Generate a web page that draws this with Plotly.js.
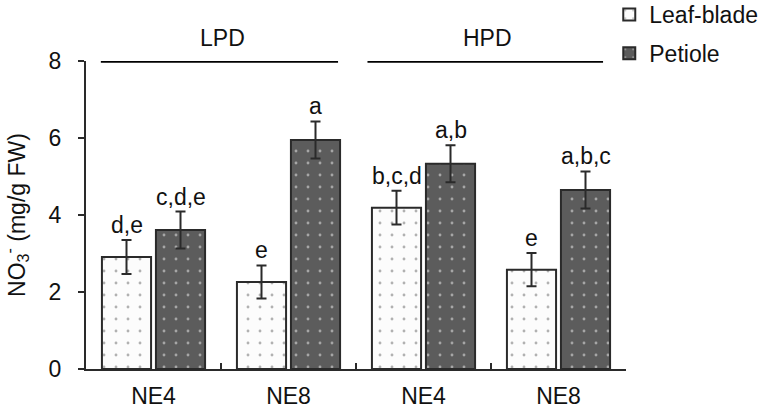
<!DOCTYPE html>
<html>
<head>
<meta charset="utf-8">
<script src="https://cdn.plot.ly/plotly-3.0.1.min.js"></script>
<style>
html,body{margin:0;padding:0;background:#fff;}
#chart{width:767px;height:408px;}
</style>
</head>
<body>
<div id="chart"></div>
<script>
// ---- data ----
var categoryIds = ["LPD-NE4", "LPD-NE8", "HPD-NE4", "HPD-NE8"];
var tickLabels = ["NE4", "NE8", "NE4", "NE8"];
var groupNames = ["LPD", "HPD"];
var seriesNames = ["Leaf-blade", "Petiole"];
var leafBlade = [2.91, 2.26, 4.19, 2.58];
var leafBladeErr = [0.44, 0.43, 0.44, 0.43];
var petiole = [3.61, 5.95, 5.33, 4.65];
var petioleErr = [0.48, 0.48, 0.48, 0.48];
var leafBladeLetters = ["d,e", "e", "b,c,d", "e"];
var petioleLetters = ["c,d,e", "a", "a,b", "a,b,c"];

// ---- styles ----
var FONT = "Liberation Sans, Arial, sans-serif";
var INK = "#2a2a2a";
var FS = 23;

var traces = [
  {
    type: "bar", name: seriesNames[0], x: categoryIds, y: leafBlade,
    legendgroup: "g1",
    marker: {
      color: "#fcfcfc",
      line: {color: INK, width: 2},
      pattern: {shape: ".", fillmode: "overlay", bgcolor: "#fcfcfc", fgcolor: "#666666", size: 12, solidity: 0.045}
    },
    error_y: {type: "data", array: leafBladeErr, visible: true, color: INK, thickness: 2, width: 5},
    hoverinfo: "skip"
  },
  {
    type: "bar", name: seriesNames[1], x: categoryIds, y: petiole,
    legendgroup: "g2",
    marker: {
      color: "#5c5c5c",
      line: {color: INK, width: 2},
      pattern: {shape: ".", fillmode: "overlay", bgcolor: "#5c5c5c", fgcolor: "#f0f0f0", size: 12, solidity: 0.045}
    },
    error_y: {type: "data", array: petioleErr, visible: true, color: INK, thickness: 2, width: 5},
    hoverinfo: "skip"
  }
];

var annotations = [];
function addLetters(vals, errs, letters, shift) {
  for (var i = 0; i < vals.length; i++) {
    annotations.push({
      xref: "x", yref: "y", x: categoryIds[i], y: vals[i] + errs[i],
      xshift: shift, yshift: 0, yanchor: "bottom", xanchor: "center",
      text: letters[i], showarrow: false,
      font: {family: FONT, size: FS, color: "#111"}
    });
  }
}
addLetters(leafBlade, leafBladeErr, leafBladeLetters, -27);
addLetters(petiole, petioleErr, petioleLetters, 27);

// group bars above the chart
var groupSpans = [[-0.39, 1.367], [1.585, 3.33]];
var shapes = [];
for (var g = 0; g < groupNames.length; g++) {
  shapes.push({
    type: "line", xref: "x", yref: "y",
    x0: groupSpans[g][0], x1: groupSpans[g][1], y0: 8, y1: 8,
    line: {color: "#000", width: 3.5}
  });
  annotations.push({
    xref: "x", yref: "y", x: (groupSpans[g][0] + groupSpans[g][1]) / 2 + 0.02, y: 8,
    yshift: 23, yanchor: "middle", xanchor: "center",
    text: groupNames[g], showarrow: false,
    font: {family: FONT, size: FS, color: "#111"}
  });
}

var layout = {
  width: 767, height: 408,
  margin: {l: 86, r: 141, t: 61, b: 39, pad: 0, autoexpand: false},
  paper_bgcolor: "#fff", plot_bgcolor: "#fff",
  font: {family: FONT, size: FS, color: "#111"},
  barmode: "group", bargap: 0.2, bargroupgap: 0.09,
  showlegend: true,
  legend: {
    xref: "paper", yref: "paper",
    x: 0.969, xanchor: "left", y: 1.221, yanchor: "top",
    font: {family: FONT, size: FS, color: "#111"},
    traceorder: "grouped", tracegroupgap: 6,
    bgcolor: "rgba(0,0,0,0)"
  },
  xaxis: {
    type: "category", categoryorder: "array", categoryarray: categoryIds,
    tickmode: "array", tickvals: categoryIds, ticktext: tickLabels,
    tickson: "boundaries", ticks: "inside", ticklen: 6, tickwidth: 2, tickcolor: INK,
    showline: true, linecolor: INK, linewidth: 2,
    showgrid: false, zeroline: false, range: [-0.5, 3.5],
    tickfont: {family: FONT, size: FS, color: "#111"},
    ticklabelstandoff: 5, automargin: false, fixedrange: true
  },
  yaxis: {
    range: [0, 8], tickmode: "linear", tick0: 0, dtick: 2,
    ticks: "outside", ticklen: 6, tickwidth: 2, tickcolor: INK,
    showline: true, linecolor: INK, linewidth: 2,
    showgrid: false, zeroline: false,
    tickfont: {family: FONT, size: FS, color: "#111"},
    ticklabelstandoff: 12, automargin: false,
    title: {text: "NO<sub>3</sub><sup>-</sup> (mg/g FW)", font: {family: FONT, size: FS, color: "#111"}, standoff: 18},
    fixedrange: true
  },
  shapes: shapes,
  annotations: annotations
};

Plotly.newPlot("chart", traces, layout, {displayModeBar: false, staticPlot: true});
</script>
</body>
</html>
